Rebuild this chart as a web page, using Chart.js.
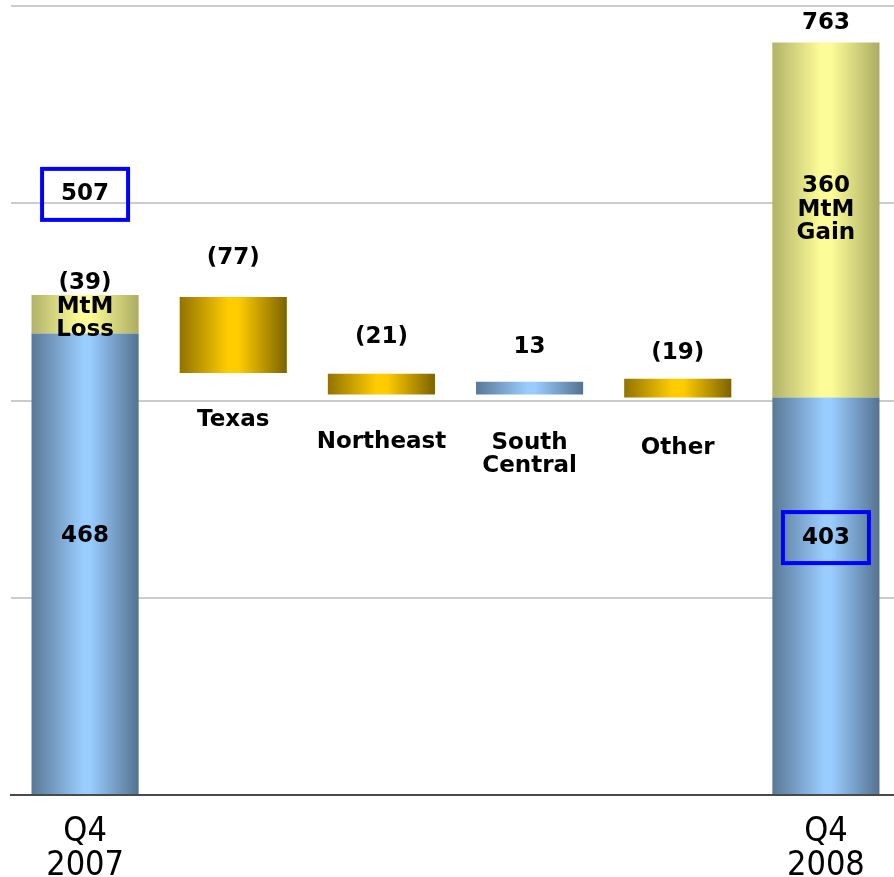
<!DOCTYPE html>
<html>
<head>
<meta charset="utf-8">
<script src="https://cdn.jsdelivr.net/npm/chart.js@4/dist/chart.umd.min.js"></script>
<style>
    body { margin: 0; background: #fff; overflow: hidden; }
    #wrap { width: 900px; height: 877px; }
</style>
</head>
<body>
<div id="wrap"><canvas id="myChart" width="900" height="877"></canvas></div>
<script>
// Categories and axis labels
const categories = ["Q4 2007", "Texas", "Northeast", "South Central", "Other", "Q4 2008"];
const axisLabels = [["Q4", "2007"], "", "", "", "", ["Q4", "2008"]];

// Floating bar ranges [from, to]
const baseValues = [[0, 468], null, null, [406, 419], null, [0, 403]];
const mtmValues = [[468, 507], null, null, null, null, [403, 763]];
const declineValues = [null, [428, 505], [406, 427], null, [403, 422], null];

// Texts written on the chart: [category index, value at text centre, lines]
const valueTexts = [
    [0, 519, ["(39)", "MtM", "Loss"]],
    [0, 263, ["468"]],
    [1, 544, ["(77)"]],
    [2, 464, ["(21)"]],
    [3, 454, ["13"]],
    [4, 448, ["(19)"]],
    [5, 783, ["763"]],
    [5, 617, ["360", "MtM", "Gain"]],
];
const categoryTexts = [
    [1, 380, ["Texas"]],
    [2, 358, ["Northeast"]],
    [3, 357, ["South", "Central"]],
    [4, 352, ["Other"]],
];
// Boxed totals: [category index, value at box centre, text]
const boxedTotals = [
    [0, 609, "507"],
    [5, 261, "403"],
];

const BAR_PCT = 0.723;

// Horizontal gradient across each bar (dark edges, light middle)
function barGradient(stops) {
    return (context) => {
        const chart = context.chart;
        const xs = chart.scales.x;
        if (!xs || context.dataIndex === undefined) return stops[1][1];
        const cx = xs.getPixelForValue(context.dataIndex);
        const half = (xs.width / categories.length) * BAR_PCT / 2;
        if (!isFinite(cx) || !isFinite(half) || half <= 0) return stops[1][1];
        const g = chart.ctx.createLinearGradient(cx - half, 0, cx + half, 0);
        stops.forEach(([pos, col]) => g.addColorStop(pos, col));
        return g;
    };
}

const blueStops = [[0, "#5a7896"], [0.48, "#99ccff"], [0.55, "#99ccff"], [1, "#557290"]];
const khakiStops = [[0, "#b2b26a"], [0.45, "#fcfc98"], [0.55, "#fcfc98"], [1, "#acac64"]];
const goldStops = [[0, "#917300"], [0.45, "#ffcc00"], [0.55, "#ffcc00"], [1, "#7d6300"]];

const textPlugin = {
    id: "waterfallTexts",
    afterDatasetsDraw(chart) {
        const { ctx, scales: { x, y } } = chart;
        const lineH = 23.5;
        ctx.save();
        ctx.fillStyle = "#000";
        ctx.font = "bold 23px 'DejaVu Sans', Verdana, sans-serif";
        ctx.textAlign = "center";
        ctx.textBaseline = "middle";

        function drawLines(i, v, lines) {
            const cx = x.getPixelForValue(i);
            const cy = y.getPixelForValue(v);
            lines.forEach((t, k) => ctx.fillText(t, cx, cy + k * lineH));
        }
        valueTexts.forEach(([i, v, lines]) => drawLines(i, v, lines));
        categoryTexts.forEach(([i, v, lines]) => drawLines(i, v, lines));

        // blue boxes round the totals
        boxedTotals.forEach(([i, v, t]) => {
            const cx = x.getPixelForValue(i);
            const cy = y.getPixelForValue(v);
            ctx.fillText(t, cx, cy);
            ctx.strokeStyle = "#0000ff";
            ctx.lineWidth = 4;
            ctx.strokeRect(cx - 43, cy - 25.5, 86, 51);
        });
        ctx.restore();
    },
};

const chart = new Chart(document.querySelector("#myChart"), {
    type: "bar",
    data: {
        labels: axisLabels,
        datasets: [
            { label: "Base", data: baseValues, backgroundColor: barGradient(blueStops) },
            { label: "MtM", data: mtmValues, backgroundColor: barGradient(khakiStops) },
            { label: "Decline", data: declineValues, backgroundColor: barGradient(goldStops) },
        ],
    },
    options: {
        responsive: false,
        animation: false,
        layout: { padding: { left: 11, top: 6, right: 0, bottom: 0 } },
        datasets: {
            bar: {
                grouped: false,
                borderWidth: 0,
                categoryPercentage: 1,
                barPercentage: BAR_PCT,
            },
        },
        scales: {
            x: {
                grid: { display: false },
                border: { display: true, color: "#4a4a4a", width: 2 },
                ticks: {
                    color: "#000",
                    padding: 12,
                    maxRotation: 0,
                    autoSkip: false,
                    font: { family: "'Liberation Sans Narrow', 'DejaVu Sans Condensed', sans-serif", size: 34, lineHeight: 1 },
                },
                afterFit: (s) => { s.height = 82; },
            },
            y: {
                min: 0,
                max: 800,
                grid: { color: "#cccccc", lineWidth: 2, drawTicks: false },
                border: { display: false },
                ticks: { display: false, stepSize: 200 },
                afterFit: (s) => { s.width = 0; },
            },
        },
        plugins: {
            legend: { display: false },
            tooltip: { enabled: false },
        },
    },
    plugins: [textPlugin],
});
chart.update();
</script>
</body>
</html>
